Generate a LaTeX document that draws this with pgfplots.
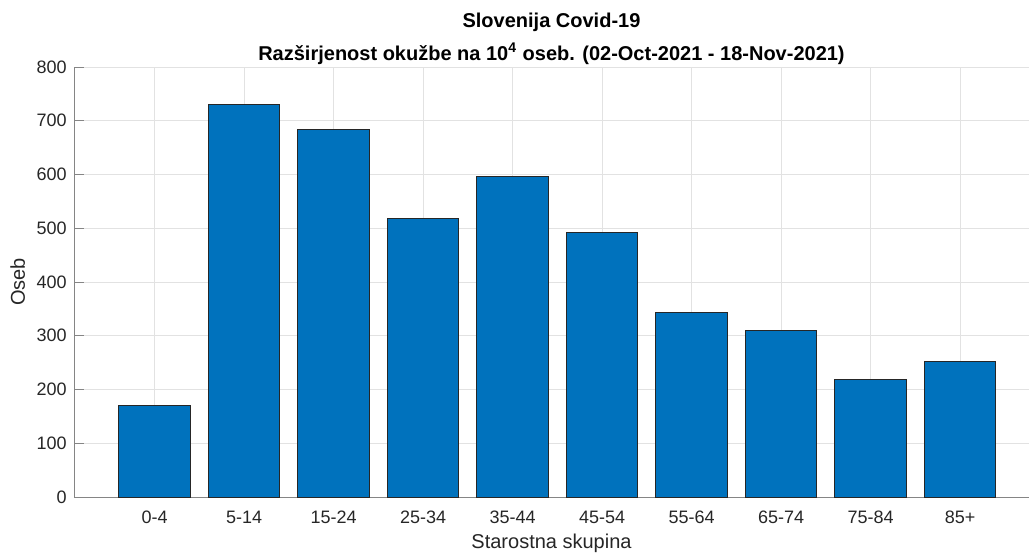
\documentclass[border=0pt]{standalone}
\usepackage{pgfplots}
\pgfplotsset{compat=1.18}
\usepackage{fontspec}
\setmainfont{Liberation Sans}
\definecolor{barblue}{HTML}{0072BD}
\definecolor{txt}{HTML}{262626}
\definecolor{axgray}{HTML}{858585}
\definecolor{gridgray}{HTML}{E2E2E2}
\begin{document}
\begin{tikzpicture}
\begin{axis}[
  width=477.5pt, height=215pt, scale only axis,
  xmin=0.1, xmax=10.77, ymin=0, ymax=800,
  xtick={1,...,10},
  xticklabels={0-4,5-14,15-24,25-34,35-44,45-54,55-64,65-74,75-84,85+},
  ytick={0,100,...,800},
  axis x line*=bottom, axis y line*=left,
  axis line style={axgray, line width=0.5pt, -},
  tick align=inside, major tick length=5pt,
  x tick style={draw=none},
  y tick style={axgray, line width=0.5pt},
  grid=major, major grid style={gridgray, line width=0.5pt},
  tick label style={font=\fontsize{9}{10}\selectfont, text=txt},
  /pgf/number format/assume math mode=true,
  yticklabel style={anchor=east, inner sep=0pt, xshift=-3.5pt},
  xticklabel style={anchor=base, inner sep=0pt, yshift=-13pt},
  clip=false,
]
\addplot[ybar, bar width=0.8, fill=barblue, draw=black!85, line width=0.5pt]
  coordinates {(1,170) (2,730) (3,683) (4,518) (5,597) (6,493) (7,344) (8,310) (9,219) (10,253)};
\coordinate (sw) at (rel axis cs:0,0);
\node[anchor=base, font=\bfseries\fontsize{10}{12}\selectfont, text=black] at ([yshift=20pt]rel axis cs:0.5,1) {Slovenija Covid-19};
\node[anchor=base, font=\bfseries\fontsize{10}{12}\selectfont, text=black] at ([yshift=3.5pt]rel axis cs:0.5,1) {Razširjenost okužbe na 10\textsuperscript{4} oseb. (02-Oct-2021 - 18-Nov-2021)};
\node[anchor=base, font=\fontsize{10}{12}\selectfont, text=txt] at ([yshift=-25.5pt]rel axis cs:0.5,0) {Starostna skupina};
\node[anchor=base, rotate=90, font=\fontsize{10}{12}\selectfont, text=txt] at ([xshift=-24.5pt]rel axis cs:0,0.5) {Oseb};
\end{axis}
\pgfresetboundingbox
\path (sw) ++(-37pt,-28.5pt) rectangle ++(514.5pt,277pt);
\end{tikzpicture}
\end{document}
